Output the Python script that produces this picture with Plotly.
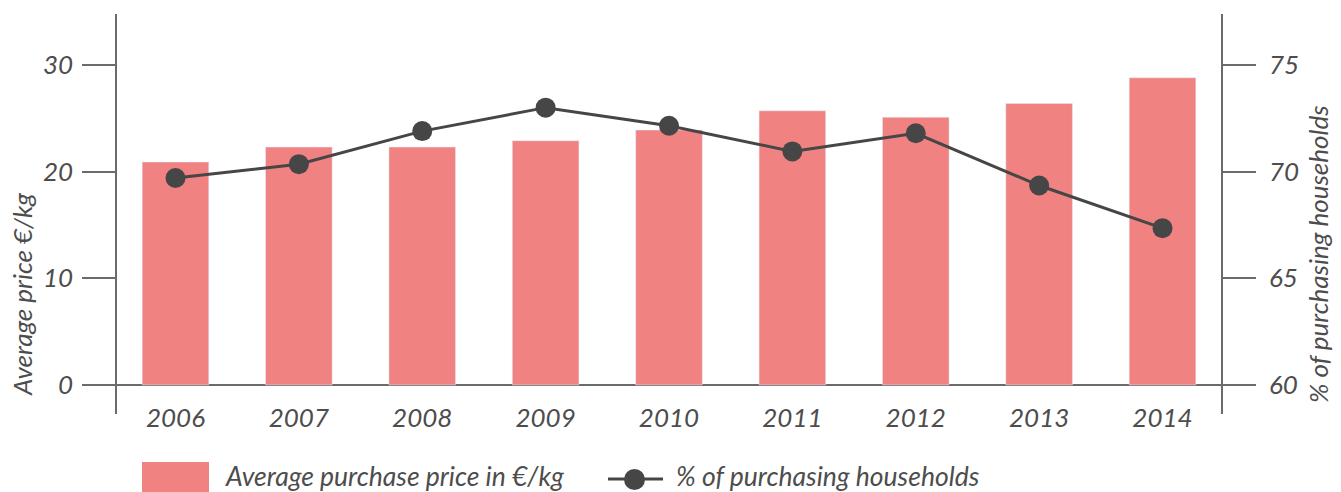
import plotly.graph_objects as go

years = ["2006", "2007", "2008", "2009", "2010", "2011", "2012", "2013", "2014"]
avg_price = [20.9, 22.3, 22.3, 22.9, 23.9, 25.7, 25.1, 26.4, 28.8]
pct_households = [69.7, 70.35, 71.9, 73.0, 72.15, 70.95, 71.8, 69.35, 67.35]

left_ticks = [0, 10, 20, 30]
right_ticks = [60, 65, 70, 75]

W, H = 1341, 492
L, R, T, B = 117, 120, 14, 78
PW, PH = W - L - R, H - T - B

def px(x):
    return (x - L) / PW

def py(y):
    return (H - B - y) / PH

BAR = "#F08281"
LINE = "#464646"
AX = "#6b6b6b"
TXT = "#4d4d4d"
FONT = dict(family="Lato", style="italic", color=TXT)
FS = 26

fig = go.Figure()
fig.add_trace(go.Bar(x=years, y=avg_price, marker_color=BAR, width=0.54,
                     name="Average purchase price in €/kg", showlegend=False))
fig.add_trace(go.Scatter(x=years, y=pct_households, yaxis="y2", mode="lines+markers",
                         line=dict(color=LINE, width=3), marker=dict(size=20, color=LINE),
                         name="% of purchasing households", showlegend=False))

fig.update_layout(
    width=W, height=H,
    margin=dict(l=L, r=R, t=T, b=B),
    paper_bgcolor="white", plot_bgcolor="white",
    font=dict(family="Lato", size=FS, style="italic", color=TXT),
    xaxis=dict(range=[-0.474, 8.474], showgrid=False, showline=False, ticks="",
               tickfont=dict(FONT, size=FS), anchor="free", position=0.035,
               zeroline=False),
    yaxis=dict(range=[-2.72, 34.78], tickvals=left_ticks, showgrid=False,
               showline=True, linecolor=AX, linewidth=1.5,
               ticks="outside", ticklen=33, tickwidth=1.5, tickcolor=AX,
               tickfont=dict(FONT, size=FS), zeroline=True, zerolinecolor=AX,
               zerolinewidth=1.5, ticklabelstandoff=4),
    yaxis2=dict(range=[58.64, 77.39], tickvals=right_ticks, overlaying="y", side="right",
                showgrid=False, showline=True, linecolor=AX, linewidth=1.5,
                ticks="outside", ticklen=33, tickwidth=1.5, tickcolor=AX,
                tickfont=dict(FONT, size=FS), zeroline=False, ticklabelstandoff=8),
    showlegend=False,
)

# axis titles
fig.add_annotation(text="Average price €/kg", textangle=-90, xref="paper", yref="paper",
                   x=px(22), y=py(295), xanchor="center", yanchor="middle",
                   showarrow=False, font=dict(FONT, size=FS))
fig.add_annotation(text="% of purchasing households", textangle=-90, xref="paper", yref="paper",
                   x=px(1318), y=py(254), xanchor="center", yanchor="middle",
                   showarrow=False, font=dict(FONT, size=FS))

# custom legend
LFS = 26.5
fig.add_shape(type="rect", xref="paper", yref="paper", x0=px(142), x1=px(209),
              y0=py(462), y1=py(500), fillcolor=BAR, line_width=0, layer="above")
fig.add_annotation(text="Average purchase price in €/kg", xref="paper", yref="paper",
                   x=px(224), y=py(476), xanchor="left", yanchor="middle", borderpad=0,
                   showarrow=False, font=dict(FONT, size=LFS))
fig.add_shape(type="line", xref="paper", yref="paper", x0=px(608), x1=px(663),
              y0=py(479), y1=py(479), line=dict(color=LINE, width=3))
fig.add_shape(type="circle", xref="paper", yref="paper", x0=px(624), x1=px(645),
              y0=py(469), y1=py(490), fillcolor=LINE, line_width=0)
fig.add_annotation(text="% of purchasing households", xref="paper", yref="paper",
                   x=px(675), y=py(476), xanchor="left", yanchor="middle", borderpad=0,
                   showarrow=False, font=dict(FONT, size=LFS))

fig.write_html("out.html", config={"displayModeBar": False},
               post_script="document.body.style.margin='0';document.body.style.overflow='hidden';")
